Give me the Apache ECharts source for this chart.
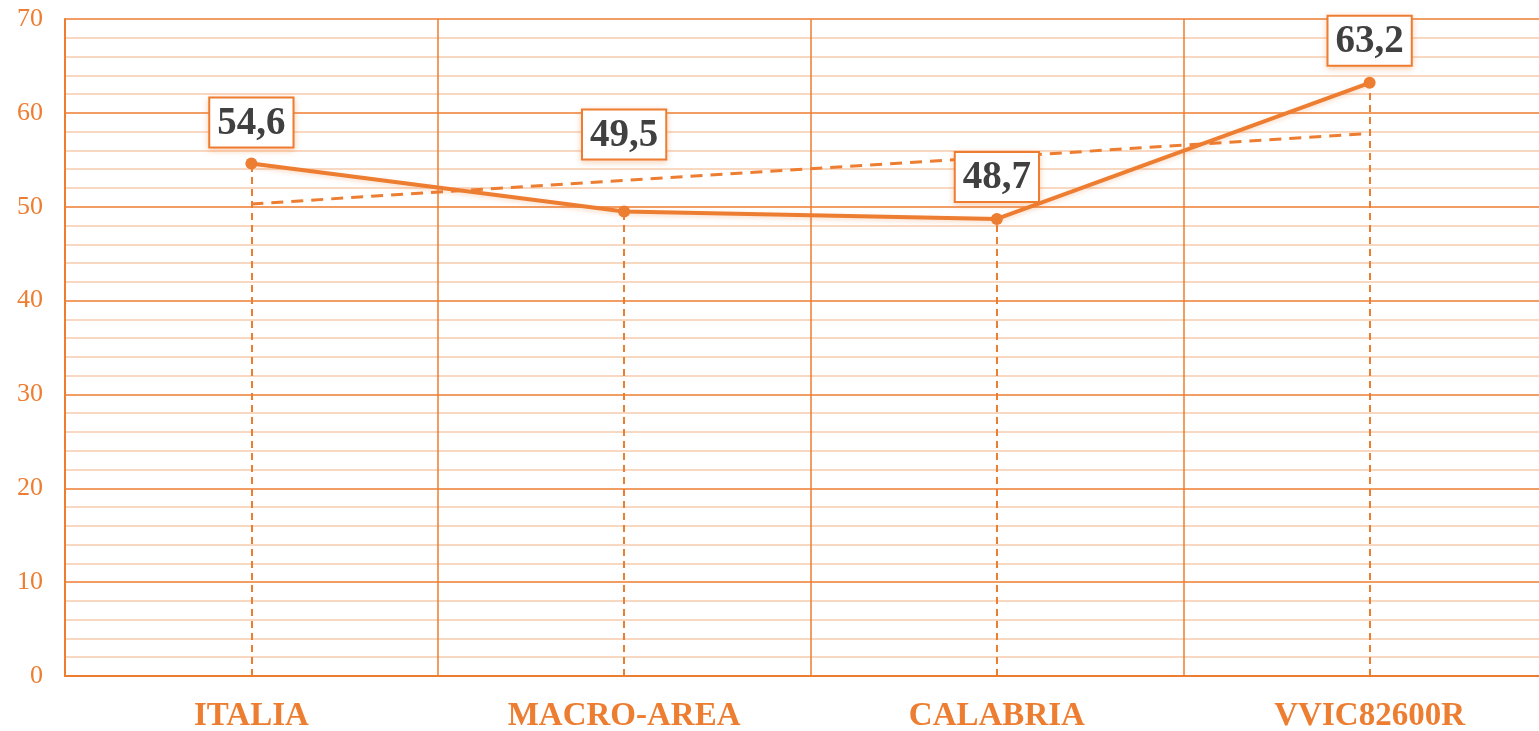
<!DOCTYPE html>
<html>
<head>
<meta charset="utf-8">
<script src="https://cdn.jsdelivr.net/npm/echarts@6/dist/echarts.min.js"></script>
<style>
  html, body { margin: 0; padding: 0; background: #fff; }
  #main { width: 1539px; height: 731px; }
</style>
</head>
<body>
<div id="main"></div>
<script>
const categories = ["ITALIA", "MACRO-AREA", "CALABRIA", "VVIC82600R"];
const values = [54.6, 49.5, 48.7, 63.2];
// trend line values
const trendValues = [50.3, 52.8, 55.3, 57.8];
const labelDistances = [11, 47, 12, 12];

const orange = "#ED7D31";
const lightOrange = "#F8CBAD";
const serif = "'Liberation Serif', 'Times New Roman', serif";

var myChart = echarts.init(document.getElementById("main"));

const dropLines = values.map(function(v, i) {
  return [
    { coord: [i, 0], symbol: "none" },
    { coord: [i, v], symbol: "none" }
  ];
});

myChart.setOption({
  animation: false,
  grid: { left: 65, width: 1491, top: 19, height: 657, outerBoundsMode: "none", containLabel: false },
  xAxis: {
    type: "category",
    data: categories,
    boundaryGap: true,
    axisLine: { lineStyle: { color: orange, width: 2 } },
    axisTick: { show: false },
    splitLine: { show: true, lineStyle: { color: orange, width: 1.5 } },
    axisLabel: {
      color: orange,
      fontFamily: serif,
      fontWeight: 700,
      fontSize: 33,
      margin: 24
    }
  },
  yAxis: {
    type: "value",
    min: 0,
    max: 70,
    interval: 10,
    axisLine: { show: true, lineStyle: { color: orange, width: 2 } },
    axisTick: { show: false },
    axisLabel: {
      color: orange,
      fontFamily: serif,
      fontSize: 26,
      margin: 22
    },
    splitLine: { lineStyle: { color: orange, width: 1.5 } },
    minorTick: { show: false, splitNumber: 5 },
    minorSplitLine: { show: true, lineStyle: { color: lightOrange, width: 1.5 } }
  },
  series: [
    {
      name: "trend",
      type: "line",
      data: trendValues,
      symbol: "none",
      z: 3,
      lineStyle: { color: orange, width: 3, type: [12, 8] }
    },
    {
      name: "valore",
      type: "line",
      z: 4,
      data: values.map(function(v, i) {
        return { value: v, label: { distance: labelDistances[i] } };
      }),
      symbol: "circle",
      symbolSize: 12,
      itemStyle: { color: orange },
      lineStyle: { color: orange, width: 4, shadowColor: "rgba(237,125,49,0.25)", shadowBlur: 4, shadowOffsetY: 2 },
      label: {
        show: true,
        position: "top",
        formatter: function(p) { return String(p.value).replace(".", ","); },
        fontFamily: serif,
        fontWeight: 700,
        fontSize: 39,
        color: "#404040",
        backgroundColor: "#fff",
        borderColor: orange,
        borderWidth: 2,
        padding: [6, 7, 3, 7],
        shadowColor: "rgba(237,125,49,0.3)",
        shadowBlur: 6,
        shadowOffsetY: 2
      },
      markLine: {
        silent: true,
        symbol: "none",
        label: { show: false },
        lineStyle: { color: orange, width: 2, type: [7, 5], opacity: 1 },
        data: dropLines
      }
    }
  ]
});
</script>
</body>
</html>
